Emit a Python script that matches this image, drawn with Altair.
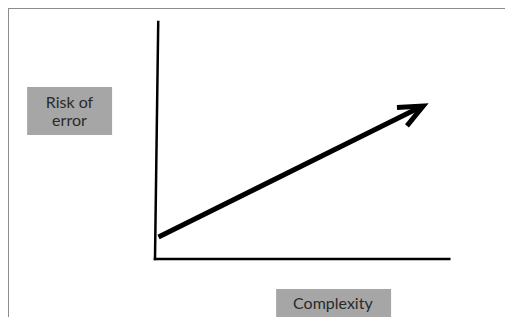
import altair as alt
import pandas as pd

# Conceptual units: origin at the axes corner, 100 = length of each axis
axis_seg = ["y-axis", "y-axis", "x-axis", "x-axis"]
axis_x = [0.0, 1.1, 0.0, 100.1]
axis_y = [0.0, 100.4, 0.0, 0.0]
axis_ord = [0, 1, 0, 1]

# Arrow: shaft and head
arrow_seg = ["shaft", "shaft", "head", "head", "head"]
arrow_x = [1.2, 90.3, 82.3, 91.2, 85.7]
arrow_y = [9.3, 64.4, 64.2, 64.8, 56.4]
arrow_ord = [0, 1, 0, 1, 2]

# Label boxes
box_name = ["Risk of error", "Complexity"]
box_x = [-43.5, 41.2]
box_x2 = [-14.6, 80.3]
box_y = [72.9, -12.7]
box_y2 = [52.5, -24.6]

# Label text lines
label_text = ["Risk of", "error", "Complexity"]
label_x = [-29.1, -29.1, 60.5]
label_y = [64.0, 56.4, -21.2]

axes_df = pd.DataFrame({"seg": axis_seg, "x": axis_x, "y": axis_y, "o": axis_ord})
arrow_df = pd.DataFrame({"seg": arrow_seg, "x": arrow_x, "y": arrow_y, "o": arrow_ord})
box_df = pd.DataFrame({"name": box_name, "x": box_x, "x2": box_x2, "y": box_y, "y2": box_y2})
label_df = pd.DataFrame({"text": label_text, "x": label_x, "y": label_y})

W, H = 497, 309
xs = alt.Scale(domain=[-50.0, 119.05], nice=False, zero=False)
ys = alt.Scale(domain=[-24.58, 106.36], nice=False, zero=False)

border_top = alt.Chart(pd.DataFrame({"a": [0]})).mark_rule(
    color="#8c8c8c", strokeWidth=1
).encode(x=alt.value(0), x2=alt.value(W), y=alt.value(0.5))

border_left = alt.Chart(pd.DataFrame({"a": [0]})).mark_rule(
    color="#8c8c8c", strokeWidth=1
).encode(x=alt.value(0.5), y=alt.value(0), y2=alt.value(H))

axes = alt.Chart(axes_df).mark_line(
    color="black", strokeWidth=2.5, strokeCap="square"
).encode(
    x=alt.X("x:Q", scale=xs, axis=None),
    y=alt.Y("y:Q", scale=ys, axis=None),
    detail="seg:N",
    order="o:Q",
)

arrow = alt.Chart(arrow_df).mark_line(
    color="black", strokeWidth=5, strokeCap="butt", strokeJoin="miter"
).encode(
    x=alt.X("x:Q", scale=xs, axis=None),
    y=alt.Y("y:Q", scale=ys, axis=None),
    detail="seg:N",
    order="o:Q",
)

boxes = alt.Chart(box_df).mark_rect(color="#a6a6a6").encode(
    x=alt.X("x:Q", scale=xs, axis=None),
    x2="x2:Q",
    y=alt.Y("y:Q", scale=ys, axis=None),
    y2="y2:Q",
)

labels = alt.Chart(label_df).mark_text(
    font="Lato", fontSize=16, color="#2a2a2a", align="center", baseline="alphabetic"
).encode(
    x=alt.X("x:Q", scale=xs, axis=None),
    y=alt.Y("y:Q", scale=ys, axis=None),
    text="text:N",
)

chart = alt.layer(border_top, border_left, boxes, labels, axes, arrow).properties(
    width=W, height=H, padding=0, autosize=alt.AutoSizeParams(type="none"), background="white"
).configure_view(stroke=None)

chart.save("out.html", embed_options={"renderer": "svg", "actions": False})
